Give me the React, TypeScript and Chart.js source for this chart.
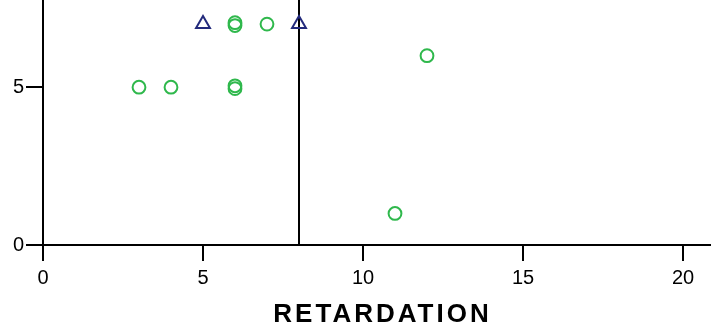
import React, { useEffect, useRef } from "react";
import { Chart, registerables } from "chart.js";

Chart.register(...registerables);

// Scatter values: RETARDATION on x, score on y
const groupAX = [3, 6, 9, 10, 13, 6, 6, 7, 12, 3, 4, 6, 6, 11];
const groupAY = [8, 8, 8, 8, 8, 6.955, 7.045, 7, 6, 5, 5, 4.955, 5.045, 1];
const groupBX = [5, 8];
const groupBY = [7, 7];

const xTicks = [0, 5, 10, 15, 20];
const yTicks = [0, 5];
const cutoffX = 8;
const xTitle = "RETARDATION";

const GREEN = "#2fb84c";
const NAVY = "#232a7c";

const cutoffLine = {
  id: "cutoffLine",
  beforeDatasetsDraw(chart: any) {
    const { ctx, chartArea, scales } = chart;
    const x = Math.round(scales.x.getPixelForValue(cutoffX));
    ctx.save();
    ctx.strokeStyle = "#000";
    ctx.lineWidth = 2;
    ctx.beginPath();
    ctx.moveTo(x, 0);
    ctx.lineTo(x, chartArea.bottom);
    ctx.stroke();
    ctx.restore();
  },
};

const axisTitle = {
  id: "axisTitle",
  afterDraw(chart: any) {
    const { ctx, chartArea } = chart;
    const spacing = 3;
    ctx.save();
    ctx.font = "bold 26px 'Liberation Sans', Arial, sans-serif";
    (ctx as any).letterSpacing = spacing + "px";
    ctx.fillStyle = "#000";
    ctx.textAlign = "center";
    ctx.textBaseline = "alphabetic";
    const cx = (chartArea.left + chartArea.right) / 2 + spacing / 2;
    ctx.fillText(xTitle, cx, chartArea.bottom + 77);
    ctx.restore();
  },
};

const noPadding = (s: any) => {
  s.paddingTop = 0;
  s.paddingBottom = 0;
  s.paddingLeft = 0;
  s.paddingRight = 0;
};

export default function App() {
  const ref = useRef<HTMLCanvasElement | null>(null);

  useEffect(() => {
    if (!ref.current) return;
    const toPoints = (xs: number[], ys: number[]) => xs.map((x, i) => ({ x, y: ys[i] }));
    const font = { family: "'Liberation Sans', Arial, sans-serif", size: 20 };
    const chart = new Chart(ref.current, {
      type: "scatter",
      data: {
        datasets: [
          {
            data: toPoints(groupAX, groupAY),
            pointStyle: "circle",
            pointRadius: 6.4,
            pointBorderWidth: 2,
            pointBorderColor: GREEN,
            pointBackgroundColor: "rgba(0,0,0,0)",
            clip: false,
          },
          {
            data: toPoints(groupBX, groupBY),
            pointStyle: "triangle",
            pointRadius: 8,
            pointBorderWidth: 2,
            pointBorderColor: NAVY,
            pointBackgroundColor: "rgba(0,0,0,0)",
            clip: false,
          },
        ],
      },
      options: {
        responsive: false,
        animation: false,
        events: [],
        layout: { padding: { left: 0, right: 10, top: 10, bottom: 0 } },
        plugins: { legend: { display: false }, tooltip: { enabled: false }, title: { display: false } },
        scales: {
          x: {
            type: "linear",
            min: 0,
            max: 21.125,
            afterFit: (s: any) => {
              s.height = 87;
              noPadding(s);
            },
            afterBuildTicks: (s: any) => {
              s.ticks = xTicks.map((v) => ({ value: v }));
            },
            ticks: { font, color: "#000", padding: 5, maxRotation: 0, autoSkip: false },
            grid: { drawOnChartArea: false, drawTicks: true, tickLength: 16, color: "#000", lineWidth: 2 },
            border: { display: true, color: "#000", width: 2 },
          },
          y: {
            type: "linear",
            min: 0,
            max: 9,
            afterFit: (s: any) => {
              s.width = 43;
              noPadding(s);
            },
            afterBuildTicks: (s: any) => {
              s.ticks = yTicks.map((v) => ({ value: v }));
            },
            ticks: { font, color: "#000", padding: 2 },
            grid: { drawOnChartArea: false, drawTicks: true, tickLength: 17, color: "#000", lineWidth: 2 },
            border: { display: true, color: "#000", width: 2 },
          },
        },
      },
      plugins: [cutoffLine, axisTitle],
    });
    return () => chart.destroy();
  }, []);

  return (
    <div
      style={{
        position: "fixed",
        left: 0,
        top: 0,
        width: 711,
        height: 332,
        overflow: "hidden",
        background: "#fff",
      }}
    >
      <canvas
        ref={ref}
        width={729}
        height={381}
        style={{ position: "absolute", left: 0, top: -49, width: 729, height: 381 }}
      />
    </div>
  );
}
